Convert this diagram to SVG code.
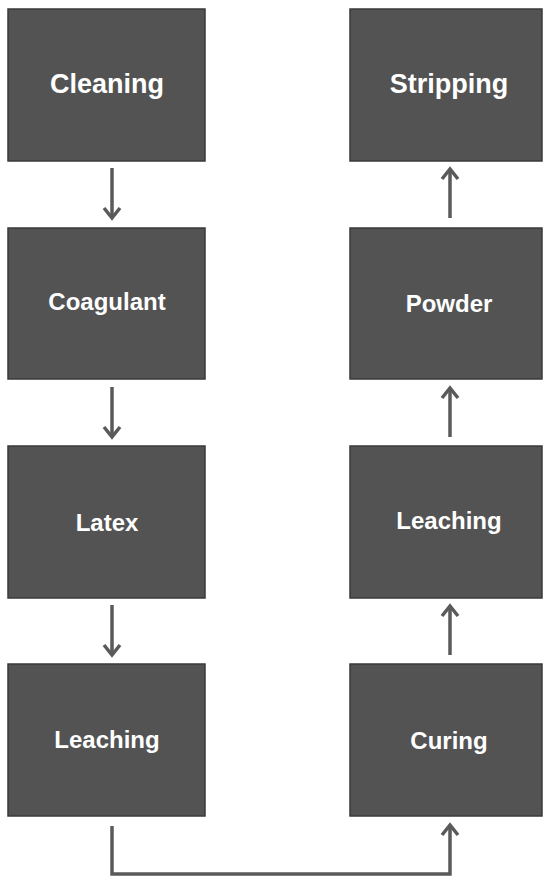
<svg xmlns="http://www.w3.org/2000/svg" width="544" height="877" viewBox="0 0 544 877">
<defs>
<style>
.box{fill:#535353;stroke:#3a3a3a;stroke-width:1.5}
.t{fill:#ffffff;font-family:"Liberation Sans",Arial,sans-serif;font-weight:bold;font-size:24px;text-anchor:middle}
.big{font-size:27px}
.c{fill:none;stroke:#5a5a5a;stroke-width:3.5}
</style>
<marker id="ah" viewBox="0 0 20 20" refX="17" refY="10" markerWidth="20" markerHeight="20" markerUnits="userSpaceOnUse" orient="auto">
<path d="M7,2 L17,10 L7,18" fill="none" stroke="#5a5a5a" stroke-width="3.5" stroke-linejoin="miter"/>
</marker>
</defs>
<rect width="544" height="877" fill="#ffffff"/>
<g id="connectors">
<line class="c" x1="112" y1="168" x2="112" y2="218" marker-end="url(#ah)"/>
<line class="c" x1="112" y1="387" x2="112" y2="437" marker-end="url(#ah)"/>
<line class="c" x1="112" y1="605" x2="112" y2="655" marker-end="url(#ah)"/>
<polyline class="c" points="112,826 112,874 450,874 450,825" marker-end="url(#ah)"/>
<line class="c" x1="450" y1="655" x2="450" y2="606" marker-end="url(#ah)"/>
<line class="c" x1="450" y1="437" x2="450" y2="388" marker-end="url(#ah)"/>
<line class="c" x1="450" y1="218" x2="450" y2="169" marker-end="url(#ah)"/>
</g>
<g id="cleaning"><rect class="box" x="8" y="9" width="197" height="152"/><text class="t big" x="107" y="93">Cleaning</text></g>
<g id="coagulant"><rect class="box" x="8" y="228" width="197" height="151"/><text class="t" x="107" y="310">Coagulant</text></g>
<g id="latex"><rect class="box" x="8" y="446" width="197" height="152"/><text class="t" x="107" y="531">Latex</text></g>
<g id="leaching1"><rect class="box" x="8" y="664" width="197" height="152"/><text class="t" x="107" y="748">Leaching</text></g>
<g id="stripping"><rect class="box" x="350" y="9" width="192" height="152"/><text class="t big" x="449" y="93">Stripping</text></g>
<g id="powder"><rect class="box" x="350" y="228" width="192" height="151"/><text class="t" x="449" y="312">Powder</text></g>
<g id="leaching2"><rect class="box" x="350" y="446" width="192" height="152"/><text class="t" x="449" y="529">Leaching</text></g>
<g id="curing"><rect class="box" x="350" y="664" width="192" height="152"/><text class="t" x="449" y="749">Curing</text></g>
</svg>
